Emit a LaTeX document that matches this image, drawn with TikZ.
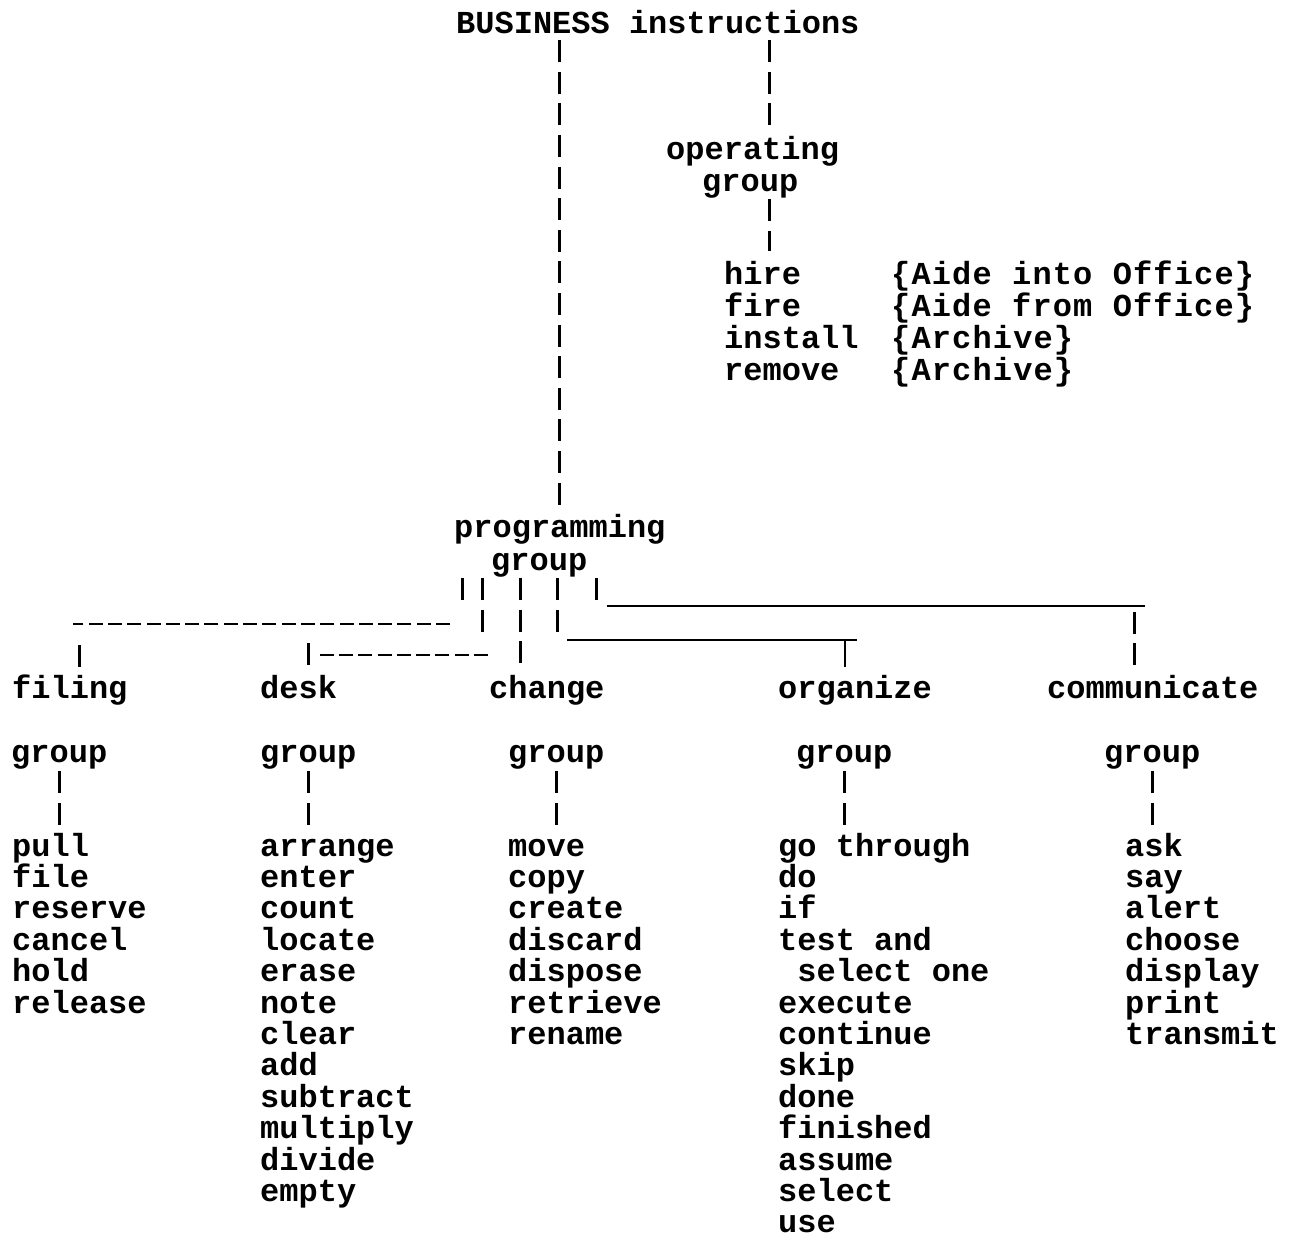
\documentclass[tikz,border=0pt]{standalone}
\usepackage{fontspec}
\newfontfamily\typefont{Liberation Mono}
\usetikzlibrary{positioning}

\tikzset{
  word/.style={inner sep=0pt, anchor=base west, text height=20pt, text depth=7pt,
    font=\typefont\bfseries\fontsize{32}{31.5}\selectfont},
  wide/.style={word, font=\typefont\bfseries\fontsize{32}{31.5}\selectfont\addfontfeature{LetterSpace=3.6}},
  bars/.style={line width=2.8pt, dash pattern=on 22pt off 9.6pt},
  dashes/.style={line width=2.8pt, dash pattern=on 14pt off 5.3pt},
  rule/.style={line width=2.8pt}
}

\begin{document}
\begin{tikzpicture}[x=1pt,y=-1pt]
  \useasboundingbox (0,0) rectangle (1289,1237);

  % top of the tree
  \node[word] (busi) at (456,33) {BUSINESS instructions};
  \node[word] (oper) at (666,159) {operating};
  \node[word] (ogrp) at (702,191) {group};
  \foreach \w [count=\i from 0] in {hire,fire,install,remove}
    \node[word] (op\i) at (724,{284+32*\i}) {\w};
  \foreach \w [count=\i from 0] in {{\{Aide into Office\}},{\{Aide from Office\}},{\{Archive\}},{\{Archive\}}}
    \node[wide] (arg\i) at (891,{284+32*\i}) {\w};
  \node[word] (prog) at (454,537) {programming};
  \node[word] (pgrp) at (491,570) {group};

  % the five groups
  \foreach \n/\w/\x/\gx in {fil/filing/12/11, dsk/desk/260/260, chg/change/489/508,
      org/organize/778/796, com/communicate/1047/1104} {
    \node[word] (\n) at (\x,698) {\w};
    \node[word] (\n-grp) at (\gx,762) {group};
  }
  \foreach \w [count=\i from 0] in {pull,file,reserve,cancel,hold,release}
    \node[word] (fil\i) at (12,{856+31.4*\i}) {\w};
  \foreach \w [count=\i from 0] in {arrange,enter,count,locate,erase,note,clear,add,
      subtract,multiply,divide,empty}
    \node[word] (dsk\i) at (260,{856+31.4*\i}) {\w};
  \foreach \w [count=\i from 0] in {move,copy,create,discard,dispose,retrieve,rename}
    \node[word] (chg\i) at (508,{856+31.4*\i}) {\w};
  \foreach \w [count=\i from 0] in {go through,do,if,test and,{\ select one},execute,
      continue,skip,done,finished,assume,select,use}
    \node[word] (org\i) at (778,{856+31.4*\i}) {\w};
  \foreach \w [count=\i from 0] in {ask,say,alert,choose,display,print,transmit}
    \node[word] (com\i) at (1125,{856+31.4*\i}) {\w};

  % connectors from the top
  \path ([xshift=17pt]oper.north) coordinate (opx);
  \draw[bars, shorten >=10pt] (busi.south -| prog.north) -- (prog.north);
  \draw[bars, shorten >=11pt] (busi.south -| opx) -- (opx);
  \draw[bars, shorten <=1pt, shorten >=13pt] (ogrp.south -| opx) -- (op0.north -| opx);

  % fan out below programming group
  \coordinate (filR) at (450,624);
  \coordinate (filL) at (73,624);
  \coordinate (dskR) at (488,655);
  \coordinate (dskL) at (320,655);
  \coordinate (orgL) at (567,640);
  \coordinate (orgR) at (857,640);
  \coordinate (comL) at (607,606);
  \coordinate (comR) at (1145,606);
  \draw[bars] ([xshift=-77pt,yshift=-1pt]pgrp.south) -- ++(0,25);
  \draw[bars] ([xshift=-57pt,yshift=-1pt]pgrp.south) -- ++(0,57);
  \draw[bars] ([xshift=-19pt,yshift=-1pt]pgrp.south) -- ++(0,90);
  \draw[bars] ([xshift=18pt,yshift=-1pt]pgrp.south) -- ++(0,59);
  \draw[bars] ([xshift=57pt,yshift=-1pt]pgrp.south) -- ++(0,25);
  \draw[dashes] (filR) -- (filL);
  \draw[dashes] (dskR) -- (dskL);
  \draw[rule] (orgL) -- (orgR);
  \draw[rule] (comL) -- (comR);
  \draw[bars] ([xshift=10pt,yshift=33pt]fil.north) -- ([xshift=10pt,yshift=11pt]fil.north);
  \draw[bars] ([xshift=10pt,yshift=35pt]dsk.north) -- ([xshift=10pt,yshift=11pt]dsk.north);
  \draw[rule] ([xshift=-10pt,yshift=38pt]org.north) -- ([xshift=-10pt,yshift=11pt]org.north);
  \draw[bars] ([xshift=-18pt,yshift=66pt]com.north) -- ([xshift=-18pt,yshift=11pt]com.north);

  % group down to its words
  \foreach \n in {fil,dsk,chg,org,com}
    \draw[bars, shorten <=2pt, shorten >=10pt] (\n-grp.south) -- (\n-grp.south |- \n0.north);
\end{tikzpicture}
\end{document}
